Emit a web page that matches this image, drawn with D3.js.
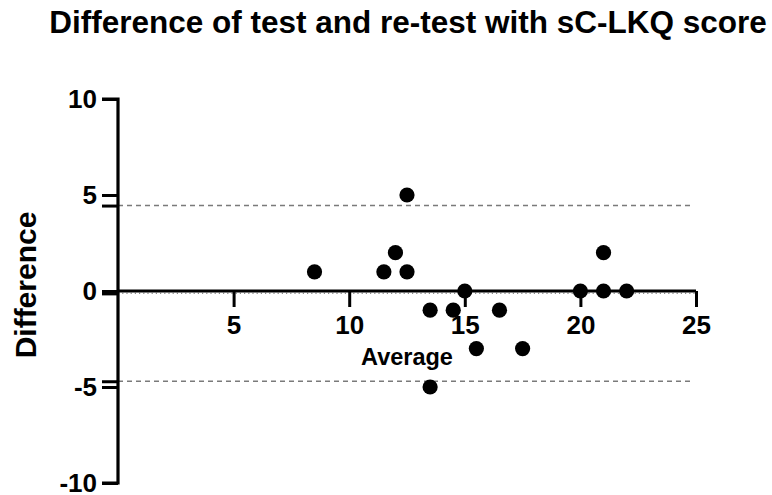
<!DOCTYPE html>
<html>
<head>
<meta charset="utf-8">
<script src="https://cdn.jsdelivr.net/npm/d3@7"></script>
<style>
  body { margin: 0; background: #fff; }
  text { font-family: "Liberation Sans", Arial, sans-serif; font-weight: bold; fill: #000; }
</style>
</head>
<body>
<div id="chart"></div>
<script>
// datos (Bland-Altman)
const average = [8.5, 11.5, 12, 12.5, 12.5, 13.5, 13.5, 14.5, 15, 15.5, 16.5, 17.5, 20, 21, 21, 22];
const difference = [1, 1, 2, 1, 5, -1, -5, -1, 0, -3, -1, -3, 0, 0, 2, 0];
const bias = -0.125;
const limits = [4.45, -4.7];
const xTicks = [5, 10, 15, 20, 25];
const yTicks = [-10, -5, 0, 5, 10];

const totalWith = 772;
const totalHeigth = 495;
const margins = { top: 99, right: 76, bottom: 12, left: 118 };
const chartWith = totalWith - margins.left - margins.right;
const chartHeigth = totalHeigth - margins.top - margins.bottom;

const svg = d3
  .select("#chart")
  .append("svg")
  .attr("width", totalWith)
  .attr("height", totalHeigth);

const g = svg
  .append("g")
  .attr("transform", `translate(${margins.left}, ${margins.top})`);

const x = d3.scaleLinear().domain([0, 25]).range([0, chartWith]);
const y = d3.scaleLinear().domain([-10, 10]).range([chartHeigth, 0]);

// lineas de limites de acuerdo (discontinuas)
g.selectAll(".limit")
  .data(limits)
  .join("line")
  .attr("class", "limit")
  .attr("x1", x(0))
  .attr("x2", x(24.8))
  .attr("y1", (d) => y(d))
  .attr("y2", (d) => y(d))
  .attr("stroke", "#7a7a7a")
  .attr("stroke-width", 1.6)
  .attr("stroke-dasharray", "5,4");

// sesgo medio (punteado)
g.append("line")
  .attr("x1", x(0))
  .attr("x2", x(25))
  .attr("y1", y(bias))
  .attr("y2", y(bias))
  .attr("stroke", "#8a8a8a")
  .attr("stroke-width", 1.2)
  .attr("stroke-dasharray", "1.2,3");

// eje y con ticks extra en los limites
const yAxis = g
  .append("g")
  .call(
    d3
      .axisLeft(y)
      .tickValues(yTicks.concat(limits, [bias]))
      .tickSize(16)
      .tickPadding(5)
      .tickFormat((d) => (yTicks.includes(d) ? d : ""))
  );

// eje x dibujado en y = 0
const xAxis = g
  .append("g")
  .attr("transform", `translate(0, ${y(0)})`)
  .call(d3.axisBottom(x).tickValues(xTicks).tickSize(16).tickPadding(9));

[yAxis, xAxis].forEach((axis) => {
  axis.select(".domain").attr("stroke-width", 3.2).attr("stroke", "#000");
  axis.selectAll(".tick line").attr("stroke-width", 3).attr("stroke", "#000");
  axis.selectAll(".tick text").style("font-size", "26px").attr("fill", "#000");
});
yAxis.select(".domain").attr("d", `M-16,0H0V${chartHeigth}H-16`);
xAxis.select(".domain").attr("d", `M0,0H${chartWith}`);
yAxis.selectAll(".tick text").attr("dy", "0.33em");

// puntos
g.selectAll("circle")
  .data(average)
  .join("circle")
  .attr("cx", (d) => x(d))
  .attr("cy", (d, i) => y(difference[i]))
  .attr("r", 7.6)
  .attr("fill", "#000");

// etiquetas
svg
  .append("text")
  .attr("x", 408)
  .attr("y", 33)
  .attr("text-anchor", "middle")
  .style("font-size", "31.5px")
  .text("Difference of test and re-test with sC-LKQ score");

g.append("text")
  .attr("x", chartWith / 2)
  .attr("y", 365 - margins.top)
  .attr("text-anchor", "middle")
  .style("font-size", "23.5px")
  .text("Average");

svg
  .append("g")
  .attr("transform", `translate(36, ${margins.top + chartHeigth / 2 - 6})`)
  .append("text")
  .attr("transform", "rotate(-90)")
  .attr("text-anchor", "middle")
  .style("font-size", "30px")
  .text("Difference");
</script>
</body>
</html>
